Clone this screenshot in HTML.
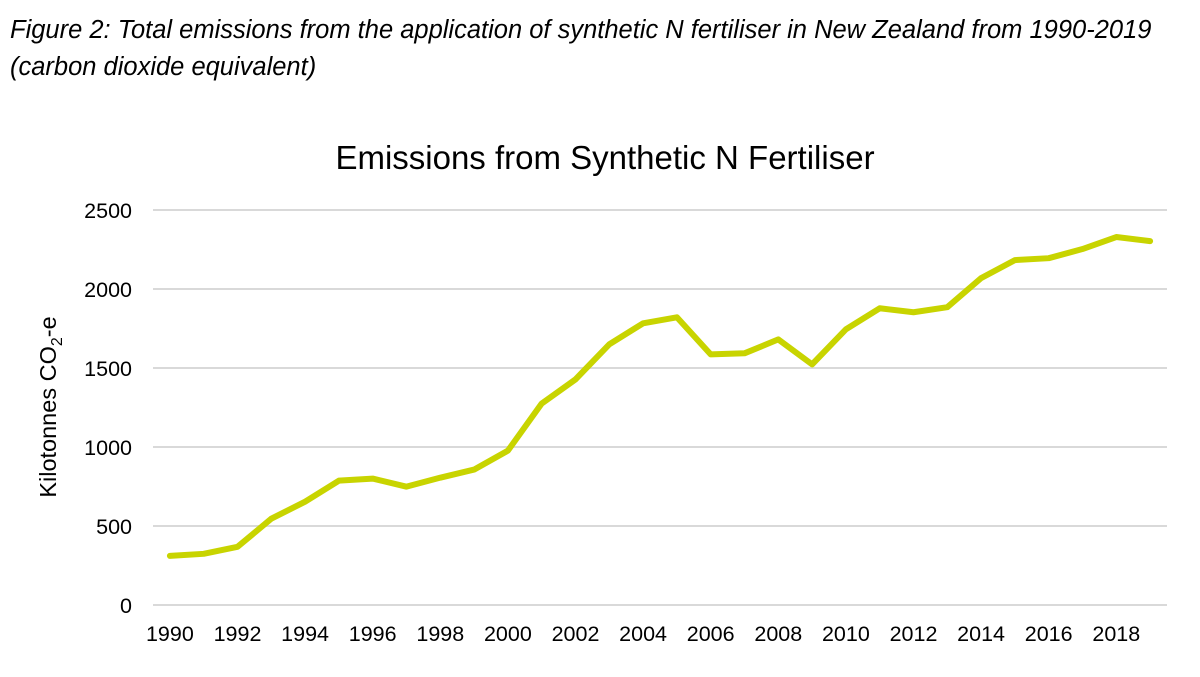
<!DOCTYPE html>
<html><head><meta charset="utf-8"><style>
body{margin:0;background:#fff;width:1200px;height:677px;overflow:hidden;font-family:"Liberation Sans",sans-serif}
.cap{position:absolute;left:10px;top:12px;font-style:italic;font-size:25.5px;line-height:37px;color:#000;width:1175px}
</style></head><body>
<div class="cap">Figure 2: Total emissions from the application of synthetic N fertiliser in New Zealand from 1990-2019 (carbon dioxide equivalent)</div>
<svg id="chart" width="1200" height="677" style="position:absolute;left:0;top:0" font-family="Liberation Sans, sans-serif">
<text x="605" y="169" text-anchor="middle" font-size="33" fill="#000">Emissions from Synthetic N Fertiliser</text>
<text transform="translate(56,407) rotate(-90)" text-anchor="middle" font-size="23.5" fill="#000">Kilotonnes CO<tspan font-size="16" dy="6">2</tspan><tspan dy="-6">-e</tspan></text>
<g id="grid"></g><g id="yt"></g><g id="xt"></g><g id="series"></g>
</svg>
<script>
const years=[1990,1991,1992,1993,1994,1995,1996,1997,1998,1999,2000,2001,2002,2003,2004,2005,2006,2007,2008,2009,2010,2011,2012,2013,2014,2015,2016,2017,2018,2019];
const emissions=[311,324,368,546,654,787,800,749,806,857,977,1275,1428,1650,1783,1821,1586,1593,1681,1523,1745,1878,1853,1885,2069,2183,2195,2253,2329,2303];
const yTicks=[0,500,1000,1500,2000,2500];
const xTickLabels=[1990,1992,1994,1996,1998,2000,2002,2004,2006,2008,2010,2012,2014,2016,2018];
const NS='http://www.w3.org/2000/svg';
const x0=153,x1=1167,y0=605,yTop=210;
const step=(x1-x0)/years.length;
function xs(i){return x0+step*(i+0.5);}
function ys(v){return y0-(v/2500)*(y0-yTop);}
function mk(t,a,p){const e=document.createElementNS(NS,t);for(const k in a)e.setAttribute(k,a[k]);p.appendChild(e);return e;}
const grid=document.getElementById('grid'),yt=document.getElementById('yt'),xt=document.getElementById('xt'),ser=document.getElementById('series');
yTicks.forEach(v=>{
 const l=mk('line',{x1:x0,x2:x1,y1:ys(v),y2:ys(v),stroke:'#d9d9d9','stroke-width':2},grid);
 
 
 const t=mk('text',{x:132,y:ys(v)+8,'text-anchor':'end','font-size':21.5,fill:'#000'},yt);
 t.textContent=v;
 
 
});
xTickLabels.forEach(yr=>{
 const i=years.indexOf(yr);
 const t=mk('text',{x:xs(i),y:641,'text-anchor':'middle','font-size':21.5,fill:'#000'},xt);
 t.textContent=yr;
 
 
});
const pts=emissions.map((v,i)=>xs(i)+','+ys(v)).join(' ');
const pl=mk('polyline',{points:pts,fill:'none',stroke:'#c8d400','stroke-width':6,'stroke-linejoin':'round','stroke-linecap':'round'},ser);


</script>
</body></html>
